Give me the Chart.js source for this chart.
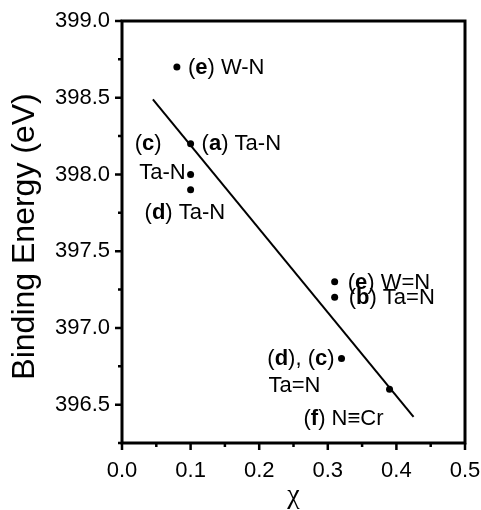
<!DOCTYPE html>
<html>
<head>
<meta charset="utf-8">
<script src="https://cdn.jsdelivr.net/npm/chart.js@4"></script>
<style>
  html, body { margin: 0; padding: 0; background: #fff; }
  #wrap { width: 481px; height: 510px; }
</style>
</head>
<body>
<div id="wrap"><canvas id="myChart"></canvas></div>
<script>
// measured points (chi, binding energy)
const chi = [0.08, 0.10, 0.10, 0.10, 0.31, 0.31, 0.32, 0.39];
const energy = [398.7, 398.2, 398.0, 397.9, 397.3, 397.2, 396.8, 396.6];

// linear fit line end points
const fitChi = [0.045, 0.425];
const fitEnergy = [398.49, 396.42];

const xTicks = [0.0, 0.1, 0.2, 0.3, 0.4, 0.5];
const yTicks = [396.5, 397.0, 397.5, 398.0, 398.5, 399.0];

// point labels: [point index, parts [text, bold], dx, dy, align]
const labels = [
  [0, [['(', 0], ['e', 1], [') W-N', 0]], 11, 1, 'left'],
  [1, [['(', 0], ['a', 1], [') Ta-N', 0]], 11, 0, 'left'],
  [1, [['(', 0], ['c', 1], [')', 0]], -29, 0, 'right'],
  [2, [['Ta-N', 0]], -5, -2, 'right'],
  [3, [['(', 0], ['d', 1], [') Ta-N', 0]], -46, 23, 'left'],
  [4, [['(', 0], ['e', 1], [') W=N', 0]], 13, 1, 'left'],
  [5, [['(', 0], ['b', 1], [') Ta=N', 0]], 14, 1, 'left'],
  [6, [['(', 0], ['d', 1], ['), (', 0], ['c', 1], [')', 0]], -7, 0, 'right'],
  [6, [['Ta=N', 0]], -73, 27, 'left'],
  [7, [['(', 0], ['f', 1], [') N\u2261Cr', 0]], -6, 30, 'right']
];

const FONT = '"Liberation Sans", Arial, sans-serif';

const decor = {
  id: 'decor',
  afterDraw(chart) {
    const {ctx, chartArea: a, scales: {x, y}} = chart;
    ctx.save();
    ctx.strokeStyle = '#000';
    ctx.lineWidth = 3;
    ctx.strokeRect(a.left, a.top, a.right - a.left, a.bottom - a.top);

    // tick marks, major and minor, outward
    ctx.lineWidth = 2.5;
    ctx.beginPath();
    for (let i = 0; i < xTicks.length; i++) {
      const px = x.getPixelForValue(xTicks[i]);
      ctx.moveTo(px, a.bottom); ctx.lineTo(px, a.bottom + 7);
      if (i < xTicks.length - 1) {
        const mx = x.getPixelForValue((xTicks[i] + xTicks[i + 1]) / 2);
        ctx.moveTo(mx, a.bottom); ctx.lineTo(mx, a.bottom + 4);
      }
    }
    const yMin = y.min;
    for (let i = 0; i < yTicks.length; i++) {
      const py = y.getPixelForValue(yTicks[i]);
      ctx.moveTo(a.left, py); ctx.lineTo(a.left - 7, py);
      const mv = yTicks[i] - 0.25;
      if (mv >= yMin - 1e-9) {
        const my = y.getPixelForValue(mv);
        ctx.moveTo(a.left, my); ctx.lineTo(a.left - 4, my);
      }
    }
    ctx.stroke();

    // point annotations
    ctx.fillStyle = '#000';
    ctx.textBaseline = 'middle';
    labels.forEach(([idx, parts, dx, dy, align]) => {
      const px = x.getPixelForValue(chi[idx]) + dx;
      const py = y.getPixelForValue(energy[idx]) + dy;
      const fonts = parts.map(p => (p[1] ? 'bold ' : '') + '22px ' + FONT);
      let w = 0;
      parts.forEach((p, k) => { ctx.font = fonts[k]; w += ctx.measureText(p[0]).width; });
      let cx = align === 'right' ? px - w : px;
      ctx.textAlign = 'left';
      parts.forEach((p, k) => {
        ctx.font = fonts[k];
        ctx.fillText(p[0], cx, py);
        cx += ctx.measureText(p[0]).width;
      });
    });
    ctx.restore();
  }
};

const ctx = document.getElementById('myChart');
new Chart(ctx, {
  type: 'scatter',
  data: {
    datasets: [
      {
        data: chi.map((c, i) => ({x: c, y: energy[i]})),
        backgroundColor: '#000',
        borderWidth: 0,
        pointRadius: 3.5
      },
      {
        data: fitChi.map((c, i) => ({x: c, y: fitEnergy[i]})),
        showLine: true,
        borderColor: '#000',
        borderWidth: 2,
        pointRadius: 0
      }
    ]
  },
  options: {
    responsive: true,
    maintainAspectRatio: false,
    animation: false,
    layout: {padding: {left: 0, top: 21, right: 16, bottom: 0}},
    plugins: {legend: {display: false}, tooltip: {enabled: false}},
    scales: {
      x: {
        type: 'linear',
        min: 0,
        max: 0.5,
        afterBuildTicks: s => { s.ticks = xTicks.map(v => ({value: v})); },
        afterFit: s => { s.height = 67; s.paddingLeft = 0; s.paddingRight = 0; },
        grid: {display: false, drawTicks: false},
        border: {display: false},
        ticks: {
          color: '#000',
          padding: 15,
          maxRotation: 0,
          font: {family: FONT, size: 22},
          callback: v => v.toFixed(1)
        },
        title: {
          display: true,
          text: '\u03c7',
          color: '#000',
          font: {family: '"Liberation Serif", "DejaVu Serif", serif', size: 28},
          padding: {top: 0, bottom: -2}
        }
      },
      y: {
        min: 396.25,
        max: 399.0,
        afterBuildTicks: s => { s.ticks = yTicks.map(v => ({value: v})); },
        afterFit: s => { s.width = 122; s.paddingTop = 0; s.paddingBottom = 0; },
        grid: {display: false, drawTicks: false},
        border: {display: false},
        ticks: {
          color: '#000',
          padding: 12,
          font: {family: FONT, size: 22},
          callback: v => v.toFixed(1)
        },
        title: {
          display: true,
          text: 'Binding Energy (eV) ',
          color: '#000',
          font: {family: FONT, size: 32},
          padding: {top: 6, bottom: 0}
        }
      }
    }
  },
  plugins: [decor]
});
</script>
</body>
</html>
